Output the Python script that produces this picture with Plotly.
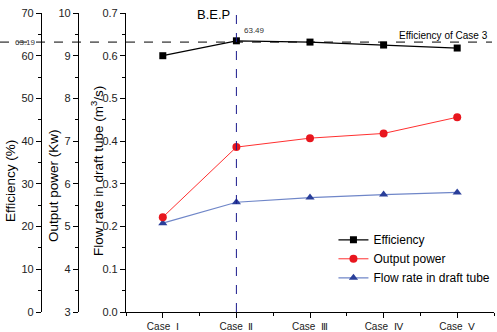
import plotly.graph_objects as go

categories = ["Case  Ⅰ", "Case  Ⅱ", "Case  Ⅲ", "Case  Ⅳ", "Case  Ⅴ"]
efficiency = [60.0, 63.49, 63.19, 62.5, 61.8]
power = [5.22, 6.86, 7.07, 7.18, 7.56]
flow = [0.208, 0.257, 0.268, 0.275, 0.280]
case3_eff = 63.19

xs = list(range(len(categories)))
FONT = "Liberation Sans, Arial, sans-serif"
W, H = 497, 332
ml, mr, mt, mb = 0, 3, 13, 20
pw = W - ml - mr
ph = H - mt - mb

fig = go.Figure()
fig.add_trace(go.Scatter(x=xs, y=efficiency, yaxis="y3", name="Efficiency",
                         mode="lines+markers", line=dict(color="black", width=1.2),
                         marker=dict(symbol="square", size=7, color="black")))
fig.add_trace(go.Scatter(x=xs, y=power, yaxis="y2", name="Output power",
                         mode="lines+markers", line=dict(color="#ff3030", width=1),
                         marker=dict(symbol="circle", size=8, color="#e8161e")))
fig.add_trace(go.Scatter(x=xs, y=flow, yaxis="y", name="Flow rate in draft tube",
                         mode="lines+markers", line=dict(color="#6f86c8", width=1.2),
                         marker=dict(symbol="triangle-up", size=8, color="#2a3f9a")))

tickfont = dict(family=FONT, size=11, color="#222")
common = dict(showline=True, linecolor="black", linewidth=1.2, ticks="outside",
              ticklen=5, tickcolor="black", showgrid=False, zeroline=False,
              tickfont=tickfont, automargin=False)

def minor(d):
    return dict(ticks="outside", ticklen=3, tickcolor="black", dtick=d)

fig.update_layout(
    width=W, height=H, margin=dict(l=ml, r=mr, t=mt, b=mb, autoexpand=False),
    plot_bgcolor="white", paper_bgcolor="white",
    font=dict(family=FONT, size=12, color="black"),
    xaxis=dict(domain=[126 / pw, 1], range=[-0.5, 4.5], tickmode="array",
               tickvals=xs, ticktext=categories, showline=True, linecolor="black",
               linewidth=1.2, ticks="outside", ticklen=5, tickcolor="black",
               showgrid=False, zeroline=False, automargin=False,
               tickfont=dict(family=FONT, size=10, color="#222"),
               minor=dict(ticks="outside", ticklen=3, tickcolor="black",
                          tick0=0.5, dtick=1)),
    yaxis=dict(range=[0, 0.7], dtick=0.1, tickformat=".1f",
               minor=minor(0.05), **common),
    yaxis2=dict(range=[3, 10], dtick=1, anchor="free", overlaying="y",
                side="left", position=78 / pw, minor=minor(0.5), **common),
    yaxis3=dict(range=[0, 70], dtick=10, anchor="free", overlaying="y",
                side="left", position=41 / pw, minor=minor(5), **common),
    legend=dict(x=0.675, y=0.29, xanchor="left", yanchor="top",
                bgcolor="rgba(0,0,0,0)", font=dict(family=FONT, size=12),
                tracegroupgap=0, itemwidth=30),
    showlegend=True,
)

# axis titles
for xpix, ypix, size, txt in [(10, 181, 13.5, "Efficiency (%)"),
                              (54, 186, 13.5, "Output power (Kw)"),
                              (97, 171, 13.5, "Flow rate in draft tube (m<sup>3</sup>/s)")]:
    fig.add_annotation(x=xpix / pw, y=1 - (ypix - mt) / ph, xref="paper", yref="paper",
                       text=txt, textangle=-90, showarrow=False,
                       xanchor="center", yanchor="middle",
                       font=dict(family=FONT, size=size, color="black"))

fig.add_shape(type="line", xref="paper", yref="y3", x0=0, x1=492 / pw,
              y0=case3_eff, y1=case3_eff, line=dict(color="black", width=1, dash="dash"))
fig.add_shape(type="line", xref="x", yref="paper", x0=xs[1], x1=xs[1], y0=0, y1=1,
              line=dict(color="#1a1a8c", width=1, dash="dash"))

fig.add_annotation(x=xs[1], y=1, xref="x", yref="paper", text="B.E.P",
                   showarrow=False, xanchor="right", yanchor="bottom", xshift=-4, yshift=-11,
                   font=dict(family=FONT, size=13, color="black"))
fig.add_annotation(x=xs[1], y=efficiency[1], xref="x", yref="y3", text=f"{efficiency[1]:.2f}",
                   showarrow=False, xanchor="left", yanchor="bottom", xshift=6, yshift=4,
                   font=dict(family=FONT, size=8, color="#333"))
fig.add_annotation(x=38 / pw, y=case3_eff, xref="paper", yref="y3", text=f"{case3_eff:.2f}",
                   showarrow=False, xanchor="right", yanchor="middle",
                   font=dict(family=FONT, size=8, color="#333"))
fig.add_annotation(x=490 / pw, y=case3_eff, xref="paper", yref="y3", text="Efficiency of Case 3",
                   showarrow=False, xanchor="right", yanchor="bottom", yshift=-1,
                   font=dict(family=FONT, size=10, color="black"))

fig.write_html("out.html", post_script="document.body.style.margin='0';",
               config={"displayModeBar": False})
